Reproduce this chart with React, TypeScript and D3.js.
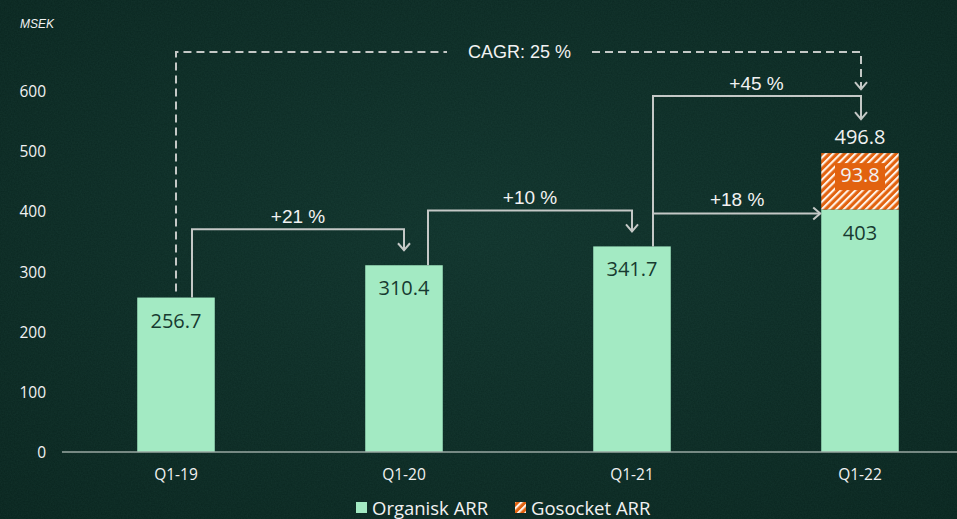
import React from "react";
import * as d3 from "d3";

const categories = ["Q1-19", "Q1-20", "Q1-21", "Q1-22"];
const organicArr = [256.7, 310.4, 341.7, 403];
const gosocketArr = [0, 0, 0, 93.8];
const organicLabels = ["256.7", "310.4", "341.7", "403"];
const gosocketLabels = ["", "", "", "93.8"];
const totalLabels = ["", "", "", "496.8"];
const yTicks = [0, 100, 200, 300, 400, 500, 600];
const growthLabels = ["+21 %", "+10 %", "+45 %", "+18 %"];
const cagrLabel = "CAGR: 25 %";
const unitLabel = "MSEK";
const legendLabels = ["Organisk ARR", "Gosocket ARR"];

const W = 957;
const H = 519;
const MINT = "#a3eac3";
const ORANGE = "#e2620f";
const ARROW = "#c4c8c6";
const WHITE = "#f2f2f2";
const DARK = "#173a30";
const ARIAL = "Liberation Sans, Arial, sans-serif";
const SANS = "Open Sans, sans-serif";

export default function App() {
  const x = d3.scaleBand<string>().domain(categories).range([62, 974]).paddingInner(0.66).paddingOuter(0.33);
  const y = d3.scaleLinear().domain([0, 600]).range([452, 91]);
  const bw = x.bandwidth();
  const cx = (i: number) => (x(categories[i]) as number) + bw / 2;
  const totals = organicArr.map((v, i) => v + gosocketArr[i]);

  const arrowHead = (ax: number, ay: number, dir: "down" | "right") => {
    const s = 6;
    if (dir === "down") return `M${ax - s},${ay - s - 1} L${ax},${ay} L${ax + s},${ay - s - 1}`;
    return `M${ax - s - 1},${ay - s} L${ax},${ay} L${ax - s - 1},${ay + s}`;
  };

  const steps = [
    { from: 0, to: 1, off: 16, label: growthLabels[0] },
    { from: 1, to: 2, off: 24, label: growthLabels[1] },
  ];
  const x3 = cx(2) + 21;
  const lvl45 = y(totals[3]) - 57;
  const tip45 = y(totals[3]) - 34;
  const lvl18 = y(organicArr[3]) + 4;
  const cagrLvl = 52;
  const cagrX0 = cx(0);
  const cagrX1 = cx(3) + 1;
  const gapL = 447;
  const gapR = 592;

  return (
    <svg width={W} height={H} style={{ position: "absolute", left: 0, top: 0 }}>
      <defs>
        <pattern id="hatch" patternUnits="userSpaceOnUse" width="5.2" height="5.2" patternTransform="rotate(45)">
          <rect width="5.2" height="5.2" fill={ORANGE} />
          <rect x="0" y="0" width="2.1" height="5.2" fill="#fff3e8" />
        </pattern>
        <filter id="noise" x="0" y="0" width="100%" height="100%">
          <feTurbulence type="fractalNoise" baseFrequency="0.7" numOctaves="2" seed="3" />
          <feColorMatrix type="matrix" values="0 0 0 0 0.2  0 0 0 0 0.55  0 0 0 0 0.45  0 0 0 0.08 0" />
        </filter>
        <radialGradient id="bgGrad" cx="0.5" cy="0.45" r="0.75">
          <stop offset="0" stopColor="#0f312a" />
          <stop offset="1" stopColor="#08231d" />
        </radialGradient>
      </defs>
      <rect width={W} height={H} fill="url(#bgGrad)" />
      <rect width={W} height={H} filter="url(#noise)" />

      <text x={20} y={28} fontFamily={ARIAL} fontStyle="italic" fontSize={12} fill={WHITE}>
        {unitLabel}
      </text>

      {yTicks.map((t) => (
        <text key={t} x={46} y={y(t) + 6} textAnchor="end" fontFamily={SANS} fontSize={15.5} fill={WHITE}>
          {t}
        </text>
      ))}

      {categories.map((c, i) => (
        <g key={c}>
          <rect x={x(c)} y={y(organicArr[i])} width={bw} height={y(0) - y(organicArr[i])} fill={MINT} />
          {gosocketArr[i] > 0 && (
            <rect x={x(c)} y={y(totals[i])} width={bw} height={y(organicArr[i]) - y(totals[i])} fill="url(#hatch)" />
          )}
        </g>
      ))}

      <line x1={62} x2={W} y1={y(0)} y2={y(0)} stroke="#9aa8a3" strokeWidth={1.5} />

      {categories.map((c, i) => (
        <text key={c} x={cx(i)} y={480} textAnchor="middle" fontFamily={SANS} fontSize={15.5} fill={WHITE}>
          {c}
        </text>
      ))}

      {categories.map((c, i) => (
        <text key={"l" + c} x={cx(i)} y={y(organicArr[i]) + 30} textAnchor="middle" fontFamily={SANS} fontSize={20} fill={DARK}>
          {organicLabels[i]}
        </text>
      ))}
      {categories.map((c, i) =>
        gosocketArr[i] > 0 ? (
          <g key={"g" + c}>
            <rect x={cx(i) - 25} y={y(totals[i]) + 10} width={50} height={27} fill={ORANGE} />
            <text x={cx(i)} y={y(totals[i]) + 29} textAnchor="middle" fontFamily={SANS} fontSize={20} fill={WHITE}>
              {gosocketLabels[i]}
            </text>
            <text x={cx(i)} y={y(totals[i]) - 9} textAnchor="middle" fontFamily={SANS} fontSize={20} fill={WHITE}>
              {totalLabels[i]}
            </text>
          </g>
        ) : null
      )}

      {steps.map((s) => {
        const sx = cx(s.from) + s.off;
        const ex = cx(s.to);
        const lvl = y(organicArr[s.to]) - 36;
        const tip = y(organicArr[s.to]) - 15;
        return (
          <g key={s.label} fill="none" stroke={ARROW} strokeWidth={2}>
            <path d={`M${sx},${y(organicArr[s.from])} V${lvl} H${ex} V${tip}`} />
            <path d={arrowHead(ex, tip, "down")} />
            <text x={(sx + ex) / 2} y={lvl - 6} textAnchor="middle" fontFamily={ARIAL} fontSize={19} fill={WHITE} stroke="none">
              {s.label}
            </text>
          </g>
        );
      })}

      <g fill="none" stroke={ARROW} strokeWidth={2}>
        <path d={`M${x3},${y(organicArr[2])} V${lvl45} H${cx(3) + 1} V${tip45}`} />
        <path d={arrowHead(cx(3) + 1, tip45, "down")} />
        <path d={`M${x3},${lvl18} H${(x(categories[3]) as number) - 1}`} />
        <path d={arrowHead((x(categories[3]) as number) - 1, lvl18, "right")} />
      </g>
      <text x={(x3 + cx(3)) / 2} y={lvl45 - 6} textAnchor="middle" fontFamily={ARIAL} fontSize={19} fill={WHITE}>
        {growthLabels[2]}
      </text>
      <text x={(x3 + (x(categories[3]) as number)) / 2} y={lvl18 - 8} textAnchor="middle" fontFamily={ARIAL} fontSize={19} fill={WHITE}>
        {growthLabels[3]}
      </text>

      <g fill="none" stroke={ARROW} strokeWidth={2}>
        <path d={`M${cagrX0},${y(organicArr[0]) - 6} V${cagrLvl} H${gapL}`} strokeDasharray="8,5" />
        <path d={`M${gapR},${cagrLvl} H${cagrX1} V${tip45 - 31}`} strokeDasharray="8,5" />
        <path d={arrowHead(cagrX1, tip45 - 30, "down")} />
      </g>
      <text x={(gapL + gapR) / 2} y={cagrLvl + 6} textAnchor="middle" fontFamily={ARIAL} fontSize={18} fill={WHITE}>
        {cagrLabel}
      </text>

      <rect x={356} y={502} width={11} height={11} fill={MINT} />
      <text x={372} y={515} fontFamily={SANS} fontSize={18.5} fill={WHITE}>
        {legendLabels[0]}
      </text>
      <rect x={515} y={502} width={11} height={11} fill="url(#hatch)" />
      <text x={531} y={515} fontFamily={SANS} fontSize={18.5} fill={WHITE}>
        {legendLabels[1]}
      </text>
    </svg>
  );
}
